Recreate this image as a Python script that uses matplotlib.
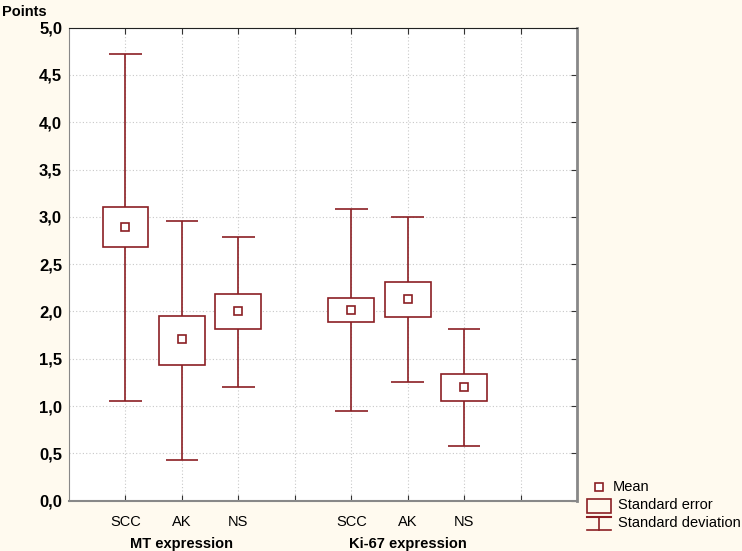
import matplotlib
matplotlib.use("Agg")
import matplotlib.pyplot as plt
from matplotlib.ticker import FuncFormatter, MultipleLocator

plt.rcParams['font.family'] = ['Liberation Sans', 'DejaVu Sans']

# dados
grupos = ["SCC", "AK", "NS", "SCC", "AK", "NS"]
posicoes = [1, 2, 3, 5, 6, 7]
media = [2.89, 1.71, 2.01, 2.02, 2.135, 1.205]
ep_sup = [3.10, 1.955, 2.18, 2.14, 2.31, 1.335]
ep_inf = [2.68, 1.43, 1.815, 1.885, 1.945, 1.057]
dp_sup = [4.72, 2.96, 2.79, 3.08, 3.00, 1.815]
dp_inf = [1.055, 0.43, 1.205, 0.95, 1.26, 0.578]
rotulos_grupo = ["MT expression", "Ki-67 expression"]
centro_grupo = [2, 6]

cor = "#8b1f24"
fundo = "#fffaef"

fig = plt.figure(figsize=(7.42, 5.51), dpi=100, facecolor=fundo)
ax = fig.add_axes([69/742, 1-500.7/551, 508/742, 473/551])
ax.set_facecolor("white")

ax.vlines(posicoes, dp_inf, dp_sup, color=cor, lw=1.2, zorder=3)
ax.hlines(dp_sup, [p-0.29 for p in posicoes], [p+0.29 for p in posicoes], color=cor, lw=1.2, zorder=3)
ax.hlines(dp_inf, [p-0.29 for p in posicoes], [p+0.29 for p in posicoes], color=cor, lw=1.2, zorder=3)
alturas = [s-i for s, i in zip(ep_sup, ep_inf)]
ax.bar(posicoes, alturas, bottom=ep_inf, width=0.81, facecolor="white",
       edgecolor=cor, lw=1.2, zorder=4)
ax.plot(posicoes, media, 's', ms=6, mfc="white", mec=cor, mew=1.2, zorder=5)

ax.set_xlim(0, 9)
ax.set_ylim(0, 5)
ax.yaxis.set_major_locator(MultipleLocator(0.5))
ax.yaxis.set_major_formatter(FuncFormatter(lambda v, p: f"{v:.1f}".replace(".", ",")))
ax.set_xticks([1, 2, 3, 4, 5, 6, 7, 8])
ax.set_xticklabels(["SCC", "AK", "NS", "", "SCC", "AK", "NS", ""], fontsize=10.5)
ax.grid(True, color="#c8c8c8", ls=(0, (1, 2)), lw=0.8)
ax.set_axisbelow(True)
ax.tick_params(axis='x', direction='in', top=True, length=4, pad=10, color="#333333")
ax.tick_params(axis='y', direction='in', left=False, right=True, length=4, pad=5, color="#333333")
for t in ax.get_yticklabels():
    t.set_fontsize(12)
    t.set_fontweight("bold")
ax.spines['top'].set_color("#222222")
ax.spines['left'].set_color("#888888")
ax.spines['bottom'].set_color("#888888")
ax.spines['right'].set_color("#888888")
ax.spines['right'].set_linewidth(2)
ax.spines['bottom'].set_linewidth(1.5)

for r, c in zip(rotulos_grupo, centro_grupo):
    ax.text(c, -0.455, r, ha="center", va="center", fontsize=10.5, fontweight="bold")
fig.text(2/742, 1-12/551, "Points", ha="left", va="center", fontsize=10.5, fontweight="bold")

# legenda desenhada a mao
lg = fig.add_axes([580/742, 0, 162/742, 80/551])
lg.set_xlim(580, 742)
lg.set_ylim(551, 471)
lg.axis("off")
lg.plot([599], [487], 's', ms=6, mfc="white", mec=cor, mew=1.2)
lg.text(613, 487, "Mean", va="center", fontsize=10.5)
lg.add_patch(plt.Rectangle((587, 499), 24, 14, fill=False, ec=cor, lw=1.2))
lg.text(618, 505, "Standard error", va="center", fontsize=10.5)
lg.plot([587, 611], [517, 517], color=cor, lw=1.5)
lg.plot([599, 599], [517, 530], color=cor, lw=1.2)
lg.plot([587, 611], [530, 530], color=cor, lw=1.2)
lg.text(618, 523, "Standard deviation", va="center", fontsize=10.5)

plt.savefig("out.png", dpi=100, facecolor=fundo)
